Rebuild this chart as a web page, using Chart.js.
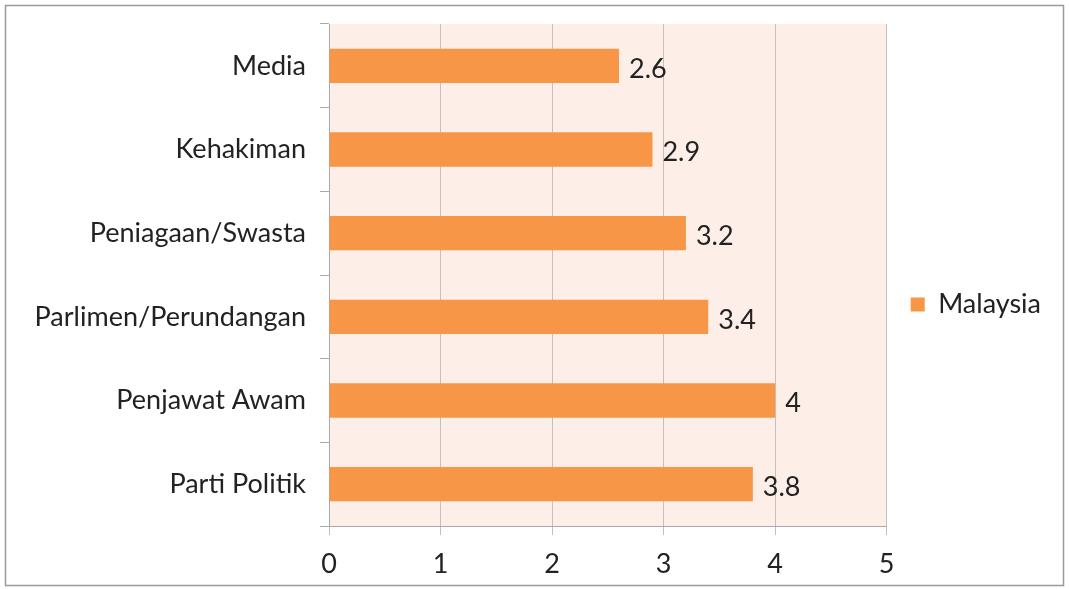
<!DOCTYPE html>
<html>
<head>
<meta charset="utf-8">
<script src="https://cdn.jsdelivr.net/npm/chart.js@4/dist/chart.umd.min.js"></script>
<style>
  html, body { margin: 0; padding: 0; background: #fff; }
  #wrap { width: 1069px; height: 589px; position: relative; }
</style>
</head>
<body>
<div id="wrap"><canvas id="chart" width="1069" height="589"></canvas></div>
<script>
const categories = ["Media", "Kehakiman", "Peniagaan/Swasta", "Parlimen/Perundangan", "Penjawat Awam", "Parti Politik"];
const malaysia = [2.6, 2.9, 3.2, 3.4, 4, 3.8];
const xTicks = [0, 1, 2, 3, 4, 5];

const FONT = "Lato, 'Open Sans', sans-serif";
const SIZE = 27;

// frame + pink plot background
const background = {
  id: "background",
  beforeDraw(chart) {
    const { ctx, chartArea: a } = chart;
    ctx.save();
    ctx.fillStyle = "#fff";
    ctx.fillRect(0, 0, chart.width, chart.height);
    ctx.strokeStyle = "#9a9a9a";
    ctx.lineWidth = 1.5;
    ctx.strokeRect(5.5, 5.5, chart.width - 11, chart.height - 9);
    ctx.fillStyle = "#fdeee8";
    ctx.fillRect(a.left, a.top, a.right - a.left, a.bottom - a.top);
    ctx.restore();
  }
};

// value labels at end of bars
const valueLabels = {
  id: "valueLabels",
  afterDatasetsDraw(chart) {
    const { ctx } = chart;
    const meta = chart.getDatasetMeta(0);
    ctx.save();
    ctx.font = SIZE + "px " + FONT;
    ctx.fillStyle = "#222";
    ctx.textBaseline = "middle";
    ctx.textAlign = "left";
    meta.data.forEach((bar, i) => {
      ctx.fillText(String(malaysia[i]), bar.x + 10, bar.y + 3);
    });
    ctx.restore();
  }
};

new Chart(document.getElementById("chart"), {
  type: "bar",
  data: {
    labels: categories,
    datasets: [{
      label: "Malaysia",
      data: malaysia,
      backgroundColor: "#f79646",
      borderWidth: 0,
      barPercentage: 1,
      categoryPercentage: 0.41
    }]
  },
  options: {
    indexAxis: "y",
    responsive: false,
    animation: false,
    layout: { padding: { top: 24, right: 18, bottom: 4, left: 10 } },
    scales: {
      x: {
        min: 0,
        max: 5,
        afterBuildTicks(axis) { axis.ticks = xTicks.map(v => ({ value: v })); },
        afterFit(axis) { axis.height = 59; },
        grid: { color: "#c4c0bf", lineWidth: 1, tickLength: 9 },
        border: { color: "#a9a9a9" },
        ticks: { font: { family: FONT, size: SIZE }, color: "#222", padding: 13 }
      },
      y: {
        afterFit(axis) {
          axis.width = 319;
          axis.paddingTop = 0;
          axis.paddingBottom = 0;
        },
        grid: { drawOnChartArea: false, offset: true, color: "#a9a9a9", tickLength: 9 },
        border: { color: "#a9a9a9" },
        ticks: { font: { family: FONT, size: SIZE }, color: "#222", padding: 14 }
      }
    },
    plugins: {
      legend: {
        position: "right",
        labels: {
          font: { family: FONT, size: SIZE },
          color: "#222",
          boxWidth: 14,
          boxHeight: 14,
          padding: 24
        }
      },
      tooltip: { enabled: false }
    }
  },
  plugins: [background, valueLabels]
});
</script>
</body>
</html>
